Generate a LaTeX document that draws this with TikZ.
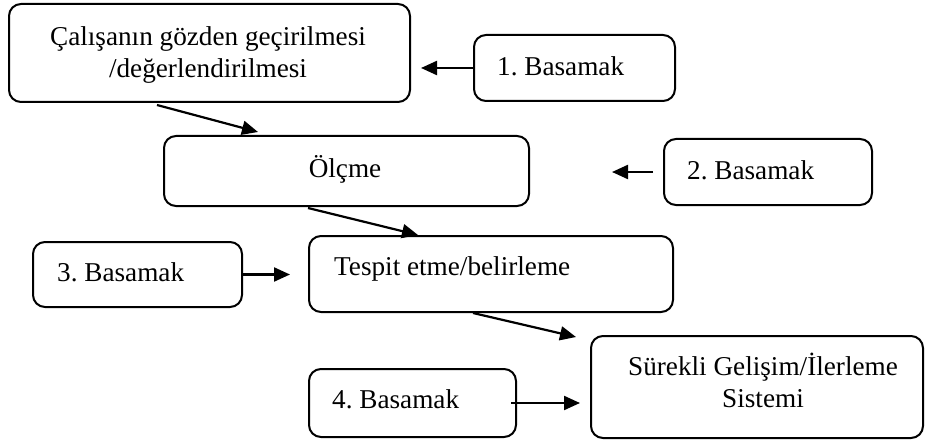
\documentclass[tikz,border=0pt]{standalone}
\usepackage{fontspec}
\setmainfont{Liberation Serif}
\usetikzlibrary{arrows.meta}
\frenchspacing
\tikzset{
  box/.style={draw, line width=2pt, rounded corners=12pt, inner sep=0pt, anchor=north west},
  lbl/.style={font=\fontsize{27.2}{31.5}\selectfont, inner sep=0pt},
  arr/.style={line width=2.2pt, -{Triangle[length=16pt,width=14pt]}}
}
\begin{document}
\begin{tikzpicture}[x=1pt,y=-1pt]
\useasboundingbox (0,0) rectangle (937,441);
% boxes
\node[box, minimum width=401pt, minimum height=98pt] (b1) at (8,3) {};
\node[box, minimum width=201pt, minimum height=66pt] (s1) at (473,34) {};
\node[box, minimum width=365pt, minimum height=70pt] (m) at (163,135) {};
\node[box, minimum width=208pt, minimum height=66pt] (s2) at (663,138) {};
\node[box, minimum width=209pt, minimum height=65pt] (s3) at (32,241) {};
\node[box, minimum width=364pt, minimum height=76pt] (t) at (308,235) {};
\node[box, minimum width=207pt, minimum height=68pt] (s4) at (308,368) {};
\node[box, minimum width=332pt, minimum height=102pt] (g) at (590,335) {};
% texts
\node[lbl, align=center] (tb1) at (208,55) {Çalışanın gözden geçirilmesi\\/değerlendirilmesi};
\node[lbl, anchor=base west] (ts1) at (497,76) {1. Basamak};
\node[lbl, anchor=base] (tm) at (345,177) {Ölçme};
\node[lbl, anchor=base west] (ts2) at (687,179) {2. Basamak};
\node[lbl, anchor=base west] (ts3) at (57,281) {3. Basamak};
\node[lbl, anchor=base west] (tt) at (334,275) {Tespit etme/belirleme};
\node[lbl, anchor=base west] (ts4) at (332,408) {4. Basamak};
\node[lbl, align=center] (tg) at (763,380.5) {Sürekli Gelişim/İlerleme\\Sistemi};
% connectors
\draw[arr] ([xshift=149pt,yshift=-2pt]b1.south west) -- ([xshift=95pt,yshift=3pt]m.north west);
\draw[arr] (s1.west) -- ([xshift=-52pt]s1.west);
\draw[arr] ([xshift=-10pt]s2.west) -- ([xshift=-51pt]s2.west);
\draw[arr] ([xshift=145pt,yshift=-1pt]m.south west) -- ([xshift=110pt]t.north west);
\draw[arr] (s3.east) -- ([xshift=-18pt]t.west |- s3.east);
\draw[arr] ([xshift=165pt]t.south west) -- ([xshift=-14pt,yshift=-2pt]g.north west);
\draw[arr] ([xshift=-6pt]s4.east) -- ([xshift=-10pt]g.west |- s4.east);
\end{tikzpicture}
\end{document}
